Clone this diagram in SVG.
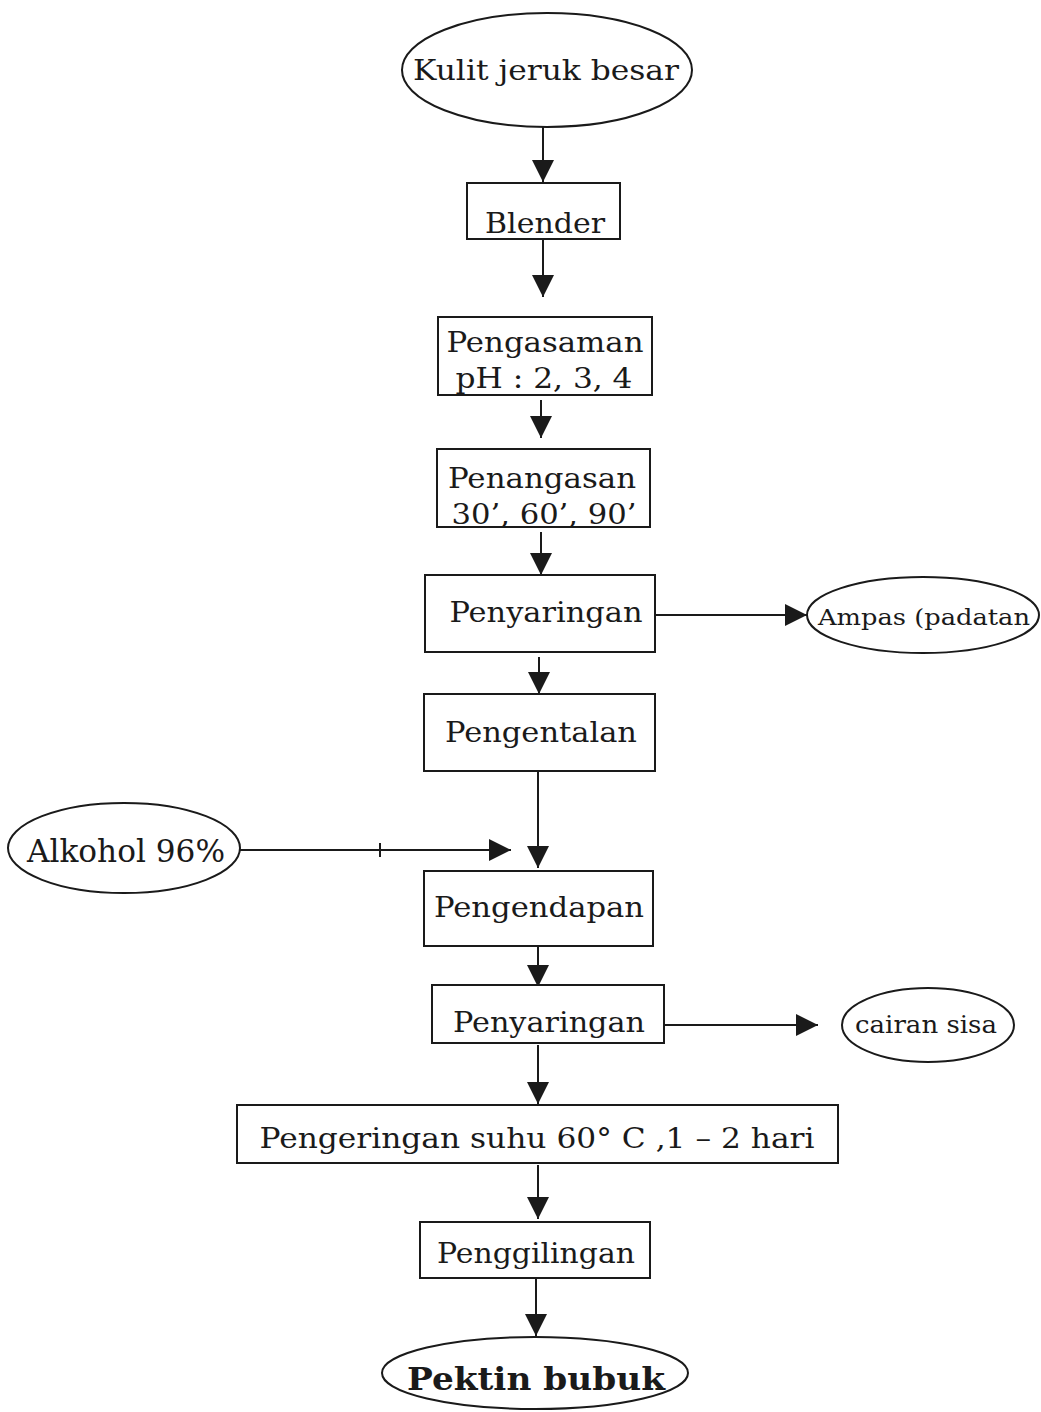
<svg xmlns="http://www.w3.org/2000/svg" width="1041" height="1412" viewBox="0 0 1041 1412">
<defs>
<style>
.box{fill:#fff;stroke:#1a1a1a;stroke-width:2}
.ell{fill:#fff;stroke:#1a1a1a;stroke-width:2}
.t{font-family:"DejaVu Serif","Liberation Serif",serif;font-size:28px;fill:#1a1a1a;text-anchor:middle}
.s{font-size:23px}
.b{font-weight:bold;font-size:32px}
.c{stroke:#1a1a1a;stroke-width:2;fill:none}
</style>
<marker id="ahl" viewBox="0 0 10 10" refX="10" refY="5" markerWidth="22" markerHeight="22" markerUnits="userSpaceOnUse" orient="auto">
<path d="M0,0 L10,5 L0,10 Z" fill="#1a1a1a"/>
</marker>
</defs>
<rect width="1041" height="1412" fill="#fff"/>
<g id="connectors">
<line class="c" x1="543" y1="127" x2="543" y2="182" marker-end="url(#ahl)"/>
<line class="c" x1="543" y1="239" x2="543" y2="297" marker-end="url(#ahl)"/>
<line class="c" x1="541" y1="400" x2="541" y2="438" marker-end="url(#ahl)"/>
<line class="c" x1="541" y1="532" x2="541" y2="575" marker-end="url(#ahl)"/>
<line class="c" x1="655" y1="615" x2="807" y2="615" marker-end="url(#ahl)"/>
<line class="c" x1="539" y1="657" x2="539" y2="694" marker-end="url(#ahl)"/>
<line class="c" x1="538" y1="771" x2="538" y2="868" marker-end="url(#ahl)"/>
<line class="c" x1="240" y1="850" x2="511" y2="850" marker-end="url(#ahl)"/>
<line class="c" x1="380" y1="843" x2="380" y2="857"/>
<line class="c" x1="538" y1="947" x2="538" y2="987" marker-end="url(#ahl)"/>
<line class="c" x1="664" y1="1025" x2="818" y2="1025" marker-end="url(#ahl)"/>
<line class="c" x1="538" y1="1045" x2="538" y2="1104" marker-end="url(#ahl)"/>
<line class="c" x1="538" y1="1165" x2="538" y2="1219" marker-end="url(#ahl)"/>
<line class="c" x1="536" y1="1279" x2="536" y2="1336" marker-end="url(#ahl)"/>
</g>
<g id="kulit">
<ellipse class="ell" cx="547" cy="70" rx="145" ry="57"/>
<text class="t" x="546" y="80" textLength="266" lengthAdjust="spacingAndGlyphs">Kulit jeruk besar</text>
</g>
<g id="blender">
<rect class="box" x="467" y="183" width="153" height="56"/>
<text class="t" x="545" y="233" textLength="120" lengthAdjust="spacingAndGlyphs">Blender</text>
</g>
<g id="pengasaman">
<rect class="box" x="438" y="317" width="214" height="78"/>
<text class="t" x="545" y="352" textLength="197" lengthAdjust="spacingAndGlyphs">Pengasaman</text>
<text class="t" x="544" y="388" textLength="177" lengthAdjust="spacingAndGlyphs">pH : 2, 3, 4</text>
</g>
<g id="penangasan">
<rect class="box" x="437" y="449" width="213" height="78"/>
<text class="t" x="542" y="488" textLength="188" lengthAdjust="spacingAndGlyphs">Penangasan</text>
<text class="t" x="544" y="524" textLength="185" lengthAdjust="spacingAndGlyphs">30’, 60’, 90’</text>
</g>
<g id="penyaringan1">
<rect class="box" x="425" y="575" width="230" height="77"/>
<text class="t" x="546" y="622" textLength="193" lengthAdjust="spacingAndGlyphs">Penyaringan</text>
</g>
<g id="ampas">
<ellipse class="ell" cx="923" cy="615" rx="116" ry="38"/>
<text class="t s" x="924" y="625" textLength="212" lengthAdjust="spacingAndGlyphs">Ampas (padatan</text>
</g>
<g id="pengentalan">
<rect class="box" x="424" y="694" width="231" height="77"/>
<text class="t" x="541" y="742" textLength="192" lengthAdjust="spacingAndGlyphs">Pengentalan</text>
</g>
<g id="alkohol">
<ellipse class="ell" cx="124" cy="848" rx="116" ry="45"/>
<text class="t" x="126" y="862" style="font-size:31px" textLength="198" lengthAdjust="spacingAndGlyphs">Alkohol 96%</text>
</g>
<g id="pengendapan">
<rect class="box" x="424" y="871" width="229" height="75"/>
<text class="t" x="539" y="917" textLength="210" lengthAdjust="spacingAndGlyphs">Pengendapan</text>
</g>
<g id="penyaringan2">
<rect class="box" x="432" y="985" width="232" height="58"/>
<text class="t" x="549" y="1032" textLength="192" lengthAdjust="spacingAndGlyphs">Penyaringan</text>
</g>
<g id="cairan">
<ellipse class="ell" cx="928" cy="1025" rx="86" ry="37"/>
<text class="t" x="926" y="1033" style="font-size:25px" textLength="142" lengthAdjust="spacingAndGlyphs">cairan sisa</text>
</g>
<g id="pengeringan">
<rect class="box" x="237" y="1105" width="601" height="58"/>
<text class="t" x="537" y="1148" textLength="555" lengthAdjust="spacingAndGlyphs">Pengeringan suhu 60° C ,1 – 2 hari</text>
</g>
<g id="penggilingan">
<rect class="box" x="420" y="1222" width="230" height="56"/>
<text class="t" x="536" y="1263" textLength="198" lengthAdjust="spacingAndGlyphs">Penggilingan</text>
</g>
<g id="pektin">
<ellipse class="ell" cx="535" cy="1373" rx="153" ry="36"/>
<text class="t b" x="536" y="1390" textLength="258" lengthAdjust="spacingAndGlyphs">Pektin bubuk</text>
</g>
</svg>
